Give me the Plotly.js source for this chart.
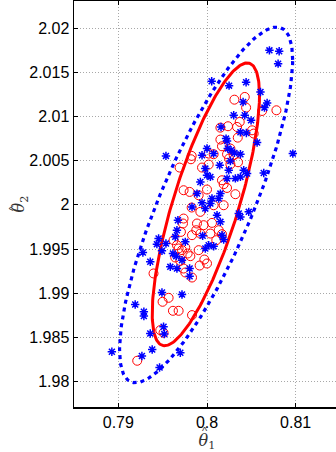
<!DOCTYPE html>
<html>
<head>
<meta charset="utf-8">
<script src="https://cdn.plot.ly/plotly-3.0.1.min.js"></script>
<style>
html,body{margin:0;padding:0;overflow:hidden;background:#fff;}
#chart{width:340px;height:452px;}
</style>
</head>
<body>
<div id="chart"></div>
<script>
// Blue asterisk sample (theta1, theta2)
const blueX = [0.80704,0.80814,0.80802,0.80053,0.80249,0.80441,0.80603,0.80678,0.80648,0.80407,
0.80301,0.80426,0.80497,0.80158,0.80377,0.80444,0.80565,0.80215,0.80226,0.80968,
0.80000,0.80075,0.79944,0.79537,0.80234,0.80271,0.80309,0.80377,0.80143,0.80264,
0.80245,0.79981,0.80000,0.80038,0.79925,0.80377,0.80452,0.80640,0.80226,0.79887,
0.80151,0.80132,0.80056,0.80038,0.79944,0.79831,0.79981,0.80113,0.80151,0.80358,
0.80377,0.80471,0.79672,0.79661,0.79642,0.79755,0.79951,0.80019,0.79981,0.80075,
0.80169,0.80188,0.79454,0.79435,0.79537,0.79492,0.79360,0.79277,0.79616,0.79653,
0.79718,0.79586,0.79661,0.79804,0.79804,0.79492,0.79718,0.79190,0.79288,0.79288,
0.79510,0.79518,0.79360,0.78927,0.79266,0.79382,0.79699,0.79465,0.80414,0.80320];
const blueY = [2.01751,2.01740,2.01600,2.01400,2.01351,2.01389,2.01279,2.01155,2.01102,2.01166,
2.01015,2.01015,2.00958,2.00883,2.00823,2.00815,2.00706,2.00751,2.00725,2.00581,
2.00638,2.00581,2.00562,2.00555,2.00638,2.00619,2.00589,2.00574,2.00449,2.00498,
2.00392,2.00411,2.00336,2.00317,2.00260,2.00317,2.00355,2.00362,2.00298,2.00128,
2.00128,2.00072,2.00072,2.00015,2.00023,1.99977,1.99958,1.99883,1.99808,1.99902,
1.99864,1.99921,1.99826,1.99713,1.99638,1.99581,1.99649,1.99543,1.99506,1.99532,
1.99657,1.99608,1.99619,1.99555,1.99562,1.99479,1.99355,1.99460,1.99449,1.99419,
1.99374,1.99298,1.99279,1.99279,1.99192,1.99008,1.98985,1.98872,1.98789,1.98740,
1.98619,1.98536,1.98543,1.98336,1.98287,1.98362,1.98325,1.98158,2.00392,2.00300];

// Red circle sample (theta1, theta2)
const redX = [0.80783,0.80309,0.80426,0.80441,0.80621,0.80369,0.80339,0.80237,0.80151,0.80508,
0.80527,0.80347,0.80151,0.80169,0.80264,0.80226,0.80249,0.80264,0.80350,0.80301,
0.79827,0.79819,0.79691,0.79944,0.80019,0.80075,0.80019,0.80169,0.80188,0.80226,
0.80320,0.80000,0.79906,0.79736,0.79804,0.80075,0.80188,0.79925,0.79827,0.79736,
0.79729,0.79706,0.79887,0.79962,0.80056,0.79879,0.79831,0.79925,0.80038,0.80132,
0.80169,0.80105,0.79661,0.79680,0.79718,0.79755,0.79782,0.79642,0.79699,0.79812,
0.79906,0.79970,0.80000,0.79917,0.79736,0.79755,0.79831,0.79397,0.79567,0.79499,
0.79616,0.79680,0.79831,0.79473,0.79510,0.79213,0.79623];
const redY = [2.01072,2.01192,2.01223,2.01102,2.01064,2.00940,2.00883,2.00891,2.00875,2.00845,
2.00808,2.00762,2.00740,2.00664,2.00638,2.00574,2.00525,2.00460,2.00483,2.00562,
2.00555,2.00517,2.00423,2.00423,2.00457,2.00574,2.00581,2.00279,2.00234,2.00192,
2.00121,2.00174,2.00109,2.00166,2.00147,1.99996,1.99996,1.99921,1.99970,1.99845,
1.99789,1.99694,1.99789,1.99770,1.99796,1.99713,1.99657,1.99675,1.99675,1.99713,
1.99668,1.99600,1.99543,1.99506,1.99487,1.99517,1.99449,1.99404,1.99366,1.99419,
1.99487,1.99381,1.99336,1.99313,1.99279,1.99234,1.99177,1.99223,1.98947,1.98902,
1.98800,1.98800,1.98751,1.98581,1.98551,1.98234,1.99600];

// Confidence ellipses: [centre x, centre y, half-width x, half-height y, correlation]
const redEllipse  = [0.79987, 2.00006, 0.00605, 0.01602, 0.77];
const blueEllipse = [0.79990, 2.00000, 0.00976, 0.02015, 0.815];

const xTicks = [0.79, 0.80, 0.81];
const xTickText = ['0.79', '0.8', '0.81'];
const yTicks = [1.98, 1.985, 1.99, 1.995, 2.0, 2.005, 2.01, 2.015, 2.02];
const yTickText = ['1.98', '1.985', '1.99', '1.995', '2', '2.005', '2.01', '2.015', '2.02'];

function ellipse(p) {
  const xs = [], ys = [];
  const n = 240, s = Math.sqrt(1 - p[4] * p[4]);
  for (let i = 0; i <= n; i++) {
    const t = 2 * Math.PI * i / n;
    xs.push(p[0] + p[2] * Math.cos(t));
    ys.push(p[1] + p[3] * (p[4] * Math.cos(t) + s * Math.sin(t)));
  }
  return {x: xs, y: ys};
}
const re = ellipse(redEllipse), be = ellipse(blueEllipse);

const traces = [
  {x: re.x, y: re.y, mode: 'lines', line: {color: '#ff0000', width: 3}, hoverinfo: 'skip'},
  {x: be.x, y: be.y, mode: 'lines', line: {color: '#0000ff', width: 3.2, dash: '4px,4px'}, hoverinfo: 'skip'},
  {x: redX, y: redY, mode: 'markers', marker: {symbol: 'circle-open', size: 9, color: '#ff0000', line: {width: 1}}},
  {x: blueX, y: blueY, mode: 'markers', marker: {symbol: 'asterisk-open', size: 7, color: '#0000ff', line: {width: 1.5, color: '#0000ff'}}}
];

const axisCommon = {
  showline: true, linecolor: '#000', linewidth: 1.5, mirror: 'ticks',
  ticks: 'inside', ticklen: 4, tickcolor: '#000', tickwidth: 1,
  showgrid: true, gridcolor: '#a8a8a8', gridwidth: 1, griddash: '1px,2px',
  zeroline: false, tickfont: {family: 'Liberation Sans, Arial, sans-serif', size: 16, color: '#000'}
};

const titleFont = {family: 'DejaVu Serif, serif', size: 16, color: '#333'};
const hatFont = {family: 'Liberation Sans, Arial, sans-serif', size: 11, color: '#333'};

const layout = {
  width: 340, height: 452,
  margin: {l: 74, r: 0, t: 1, b: 45},
  paper_bgcolor: '#fff', plot_bgcolor: '#fff',
  showlegend: false,
  xaxis: Object.assign({}, axisCommon, {
    range: [0.785, 0.815], tickvals: xTicks, ticktext: xTickText,
    title: {text: '<i>θ</i><sub>1</sub>', font: titleFont, standoff: 5}
  }),
  yaxis: Object.assign({}, axisCommon, {
    range: [1.9771, 2.0231], tickvals: yTicks, ticktext: yTickText,
    title: {text: '<i>θ</i><sub>2</sub>', font: titleFont, standoff: 0}
  }),
  annotations: [
    {xref: 'paper', yref: 'paper', x: 0.4925, y: -0.059, text: '^', showarrow: false,
     font: hatFont, xanchor: 'center', yanchor: 'middle'},
    {xref: 'paper', yref: 'paper', x: -0.23, y: 0.49, text: '^', showarrow: false, textangle: -90,
     font: hatFont, xanchor: 'center', yanchor: 'middle'}
  ]
};

Plotly.newPlot('chart', traces, layout, {displayModeBar: false, staticPlot: true});
</script>
</body>
</html>
